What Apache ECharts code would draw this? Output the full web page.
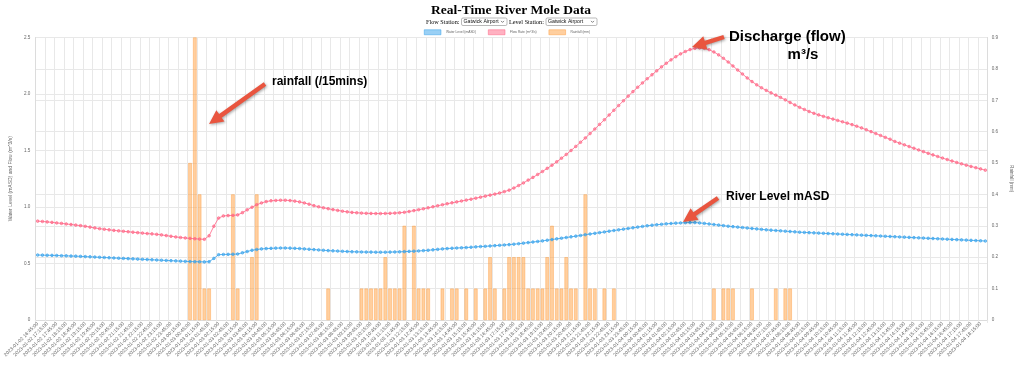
<!DOCTYPE html>
<html><head><meta charset="utf-8">
<script src="https://cdn.jsdelivr.net/npm/echarts@6/dist/echarts.min.js"></script>
<style>html,body{margin:0;padding:0;background:#fff}#chart{width:1022px;height:369px}</style>
</head><body><div id="chart"></div>
<script>
// 15-minute timestamps, 2023-01-02 16:45:00 to 2023-01-04 18:30:00
const categories = [];
for (let i = 0; i < 200; i++) {
  const t = 16 * 60 + 45 + 15 * i;
  const day = 2 + Math.floor(t / 1440);
  const m = t % 1440;
  const hh = String(Math.floor(m / 60)).padStart(2, '0');
  const mm = String(m % 60).padStart(2, '0');
  categories.push('2023-01-0' + day + ' ' + hh + ':' + mm + ':00');
}

const waterLevel = [
0.575,0.574,0.573,0.572,0.571,0.569,0.568,0.566,0.565,0.563,
0.561,0.559,0.557,0.555,0.553,0.551,0.549,0.547,0.545,0.543,
0.541,0.539,0.537,0.535,0.533,0.531,0.529,0.527,0.525,0.523,
0.521,0.519,0.517,0.516,0.515,0.514,0.516,0.545,0.578,0.580,
0.581,0.582,0.584,0.595,0.606,0.617,0.624,0.629,0.632,0.634,
0.636,0.637,0.637,0.636,0.634,0.632,0.629,0.626,0.623,0.620,
0.617,0.614,0.612,0.610,0.608,0.606,0.604,0.603,0.602,0.601,
0.601,0.600,0.600,0.600,0.601,0.602,0.603,0.605,0.607,0.609,
0.611,0.614,0.617,0.621,0.625,0.629,0.632,0.635,0.637,0.639,
0.641,0.644,0.647,0.650,0.652,0.655,0.658,0.661,0.664,0.667,
0.671,0.675,0.680,0.685,0.690,0.695,0.700,0.706,0.712,0.718,
0.724,0.730,0.736,0.742,0.748,0.755,0.761,0.767,0.773,0.779,
0.786,0.792,0.798,0.804,0.810,0.816,0.822,0.828,0.834,0.839,
0.843,0.847,0.851,0.854,0.857,0.859,0.861,0.862,0.862,0.859,
0.855,0.850,0.845,0.840,0.835,0.830,0.826,0.822,0.818,0.814,
0.810,0.806,0.802,0.798,0.795,0.792,0.789,0.786,0.783,0.780,
0.777,0.775,0.773,0.771,0.769,0.767,0.765,0.763,0.761,0.759,
0.757,0.755,0.753,0.751,0.749,0.747,0.745,0.743,0.741,0.739,
0.737,0.735,0.733,0.731,0.729,0.727,0.725,0.723,0.721,0.719,
0.717,0.715,0.713,0.711,0.709,0.707,0.705,0.703,0.701,0.699
];

const flowRate = [
0.875,0.872,0.868,0.864,0.859,0.855,0.850,0.845,0.840,0.835,
0.829,0.822,0.815,0.808,0.803,0.798,0.793,0.789,0.785,0.781,
0.777,0.773,0.769,0.765,0.762,0.758,0.753,0.747,0.741,0.735,
0.730,0.726,0.722,0.719,0.716,0.714,0.745,0.830,0.902,0.921,
0.924,0.926,0.930,0.950,0.975,0.998,1.020,1.036,1.048,1.055,
1.058,1.060,1.060,1.057,1.052,1.045,1.036,1.025,1.012,1.002,
0.993,0.985,0.977,0.970,0.963,0.957,0.952,0.949,0.946,0.944,
0.943,0.942,0.942,0.943,0.944,0.946,0.949,0.953,0.960,0.968,
0.976,0.984,0.993,1.002,1.011,1.020,1.029,1.037,1.045,1.053,
1.061,1.069,1.078,1.087,1.096,1.105,1.114,1.124,1.136,1.149,
1.168,1.190,1.213,1.238,1.262,1.288,1.314,1.342,1.370,1.400,
1.432,1.465,1.500,1.536,1.573,1.611,1.650,1.690,1.731,1.772,
1.814,1.856,1.898,1.940,1.981,2.021,2.060,2.098,2.135,2.170,
2.205,2.240,2.272,2.302,2.330,2.355,2.376,2.393,2.404,2.408,
2.404,2.392,2.372,2.346,2.316,2.283,2.248,2.212,2.177,2.142,
2.110,2.081,2.055,2.032,2.010,1.990,1.970,1.948,1.925,1.903,
1.882,1.863,1.845,1.829,1.815,1.802,1.790,1.778,1.766,1.754,
1.742,1.729,1.715,1.700,1.684,1.667,1.650,1.633,1.616,1.600,
1.580,1.565,1.550,1.535,1.520,1.505,1.490,1.475,1.461,1.447,
1.433,1.420,1.407,1.394,1.382,1.370,1.359,1.348,1.337,1.326
];

const rainfall = [
0,0,0,0,0,0,0,0,0,0,
0,0,0,0,0,0,0,0,0,0,
0,0,0,0,0,0,0,0,0,0,
0,0,0.5,0.9,0.4,0.1,0.1,0,0,0,
0,0.4,0.1,0,0,0.2,0.4,0,0,0,
0,0,0,0,0,0,0,0,0,0,
0,0.1,0,0,0,0,0,0,0.1,0.1,
0.1,0.1,0.1,0.2,0.1,0.1,0.1,0.3,0,0.3,
0.1,0.1,0.1,0,0,0.1,0,0.1,0.1,0,
0.1,0,0.1,0,0.1,0.2,0.1,0,0.1,0.2,
0.2,0.2,0.2,0.1,0.1,0.1,0.1,0.2,0.3,0.1,
0.1,0.2,0.1,0.1,0,0.4,0.1,0.1,0,0.1,
0,0.1,0,0,0,0,0,0,0,0,
0,0,0,0,0,0,0,0,0,0,
0,0,0.1,0,0.1,0.1,0.1,0,0,0,
0.1,0,0,0,0,0.1,0,0.1,0.1,0,
0,0,0,0,0,0,0,0,0,0,
0,0,0,0,0,0,0,0,0,0,
0,0,0,0,0,0,0,0,0,0,
0,0,0,0,0,0,0,0,0,0
];

const leftTicks = { min: 0, max: 2.5, interval: 0.5 };
const rightTicks = { min: 0, max: 0.9, interval: 0.1 };

const BLUE = 'rgb(54,162,235)', BLUE_A = 'rgba(54,162,235,0.5)';
const PINK = 'rgb(255,99,132)', PINK_A = 'rgba(255,99,132,0.5)';
const ORANGE = 'rgb(255,159,64)', ORANGE_A = 'rgba(255,159,64,0.5)';
const GRIDC = '#e8e8e8';
const fmt = v => (Math.abs(v) < 1e-9 ? '0' : v.toFixed(1));

function arrow(tx, ty, px, py) {
  const dx = px - tx, dy = py - ty, len = Math.hypot(dx, dy);
  const ux = dx / len, uy = dy / len, nx = -uy, ny = ux;
  const s = 2.2, h = 7, L = 14;
  const bx = px - ux * L, by = py - uy * L;
  return {
    type: 'polygon', z: 100,
    shape: { points: [[tx + nx * s, ty + ny * s], [bx + nx * s, by + ny * s], [bx + nx * h, by + ny * h], [px, py],
      [bx - nx * h, by - ny * h], [bx - nx * s, by - ny * s], [tx - nx * s, ty - ny * s]] },
    style: { fill: '#e9553f', shadowBlur: 3, shadowColor: 'rgba(0,0,0,0.35)', shadowOffsetX: 1, shadowOffsetY: 1 }
  };
}
function label(text, x, y, font, align) {
  return { type: 'text', z: 100, style: { text: text, x: x, y: y, font: font, fill: '#000', textAlign: align || 'left', textVerticalAlign: 'middle' } };
}
function selectBox(x, w) {
  return [
    { type: 'rect', z: 90, shape: { x: x, y: 18, width: w, height: 7.5, r: 1.5 }, style: { fill: '#fff', stroke: '#8a8a8a', lineWidth: 0.6 } },
    { type: 'text', z: 91, style: { text: 'Gatwick Airport', x: x + 2, y: 21.9, font: '5.2px "Liberation Sans"', fill: '#111', textVerticalAlign: 'middle' } },
    { type: 'polyline', z: 91, shape: { points: [[x + w - 6, 20.9], [x + w - 4.5, 22.4], [x + w - 3, 20.9]] }, style: { stroke: '#333', lineWidth: 0.6, fill: null } }
  ];
}

const chart = echarts.init(document.getElementById('chart'), null, { renderer: 'canvas' });
chart.setOption({
  animation: false,
  backgroundColor: '#fff',
  title: {
    text: 'Real-Time River Mole Data', left: 'center', top: 3, padding: 0,
    textStyle: { fontFamily: 'Liberation Serif', fontWeight: 'bold', fontSize: 13.5, color: '#000', lineHeight: 15 }
  },
  legend: {
    left: 424, top: 29.5, padding: 0, itemWidth: 16.7, itemHeight: 5, itemGap: 12,
    textStyle: { fontSize: 3.3, color: '#666', fontFamily: 'Liberation Sans' },
    data: [
      { name: 'Water Level (mASD)', icon: 'rect', itemStyle: { color: BLUE_A, borderColor: BLUE, borderWidth: 0.5 } },
      { name: 'Flow Rate (m^3/s)', icon: 'rect', itemStyle: { color: PINK_A, borderColor: PINK, borderWidth: 0.5 } },
      { name: 'Rainfall (mm)', icon: 'rect', itemStyle: { color: ORANGE_A, borderColor: ORANGE, borderWidth: 0.5 } }
    ]
  },
  grid: { left: 29.6, right: 21.4, top: 37.5, bottom: 49, containLabel: false },
  xAxis: {
    type: 'category', data: categories, boundaryGap: true,
    axisLine: { show: true, lineStyle: { color: '#dcdcdc' } },
    axisTick: { show: true, interval: 1, length: 3, lineStyle: { color: GRIDC } },
    axisLabel: { interval: 1, rotate: 45, fontSize: 5, color: '#666', margin: 3, fontFamily: 'Liberation Sans' },
    splitLine: { show: true, interval: 1, lineStyle: { color: GRIDC, width: 1 } }
  },
  yAxis: [
    {
      type: 'value', position: 'left', min: leftTicks.min, max: leftTicks.max, interval: leftTicks.interval,
      name: 'Water Level (mASD) and Flow (m^3/s)', nameLocation: 'middle', nameRotate: 90, nameGap: 14,
      nameTextStyle: { fontSize: 5, color: '#666', fontFamily: 'Liberation Sans' },
      axisLine: { show: true, lineStyle: { color: '#dcdcdc' } }, axisTick: { show: false },
      axisLabel: { fontSize: 4.6, color: '#666', margin: 5, formatter: fmt, fontFamily: 'Liberation Sans' },
      splitLine: { show: true, lineStyle: { color: GRIDC } }
    },
    {
      type: 'value', position: 'right', min: rightTicks.min, max: rightTicks.max, interval: rightTicks.interval,
      name: 'Rainfall (mm)', nameLocation: 'middle', nameRotate: -90, nameGap: 14,
      nameTextStyle: { fontSize: 4.6, color: '#666', fontFamily: 'Liberation Sans' },
      axisLine: { show: true, lineStyle: { color: '#dcdcdc' } }, axisTick: { show: false },
      axisLabel: { fontSize: 4.6, color: '#666', margin: 4, formatter: fmt, fontFamily: 'Liberation Sans' },
      splitLine: { show: true, lineStyle: { color: GRIDC } }
    }
  ],
  series: [
    {
      name: 'Water Level (mASD)', type: 'line', yAxisIndex: 0, data: waterLevel, z: 3,
      symbol: 'circle', symbolSize: 2.6, showAllSymbol: true,
      lineStyle: { color: BLUE, width: 0.8 },
      itemStyle: { color: BLUE_A, borderColor: BLUE, borderWidth: 0.7 }
    },
    {
      name: 'Flow Rate (m^3/s)', type: 'line', yAxisIndex: 0, data: flowRate, z: 3,
      symbol: 'circle', symbolSize: 2.6, showAllSymbol: true,
      lineStyle: { color: PINK, width: 0.8 },
      itemStyle: { color: PINK_A, borderColor: PINK, borderWidth: 0.7 }
    },
    {
      name: 'Rainfall (mm)', type: 'bar', yAxisIndex: 1, z: 2,
      data: rainfall.map(v => (v === 0 ? '-' : v)), barWidth: 3.5,
      itemStyle: { color: ORANGE_A, borderColor: 'rgba(255,159,64,0.85)', borderWidth: 0.5 }
    }
  ],
  graphic: [
    label('Flow Station:', 426, 21.9, '6.2px "Liberation Serif"'),
    ...selectBox(461.5, 45.5),
    label('Level Station:', 509, 21.9, '6.2px "Liberation Serif"'),
    ...selectBox(546, 51),
    arrow(265, 84, 209, 124),
    label('rainfall (/15mins)', 272, 82, 'bold 12px "Liberation Sans"'),
    arrow(724, 37, 692, 47),
    label('Discharge (flow)', 729, 37, 'bold 15px "Liberation Sans"'),
    label('m³/s', 803, 55, 'bold 15px "Liberation Sans"', 'center'),
    arrow(718, 198, 683, 222),
    label('River Level mASD', 726, 197, 'bold 12px "Liberation Sans"')
  ]
});
</script>
</body></html>
